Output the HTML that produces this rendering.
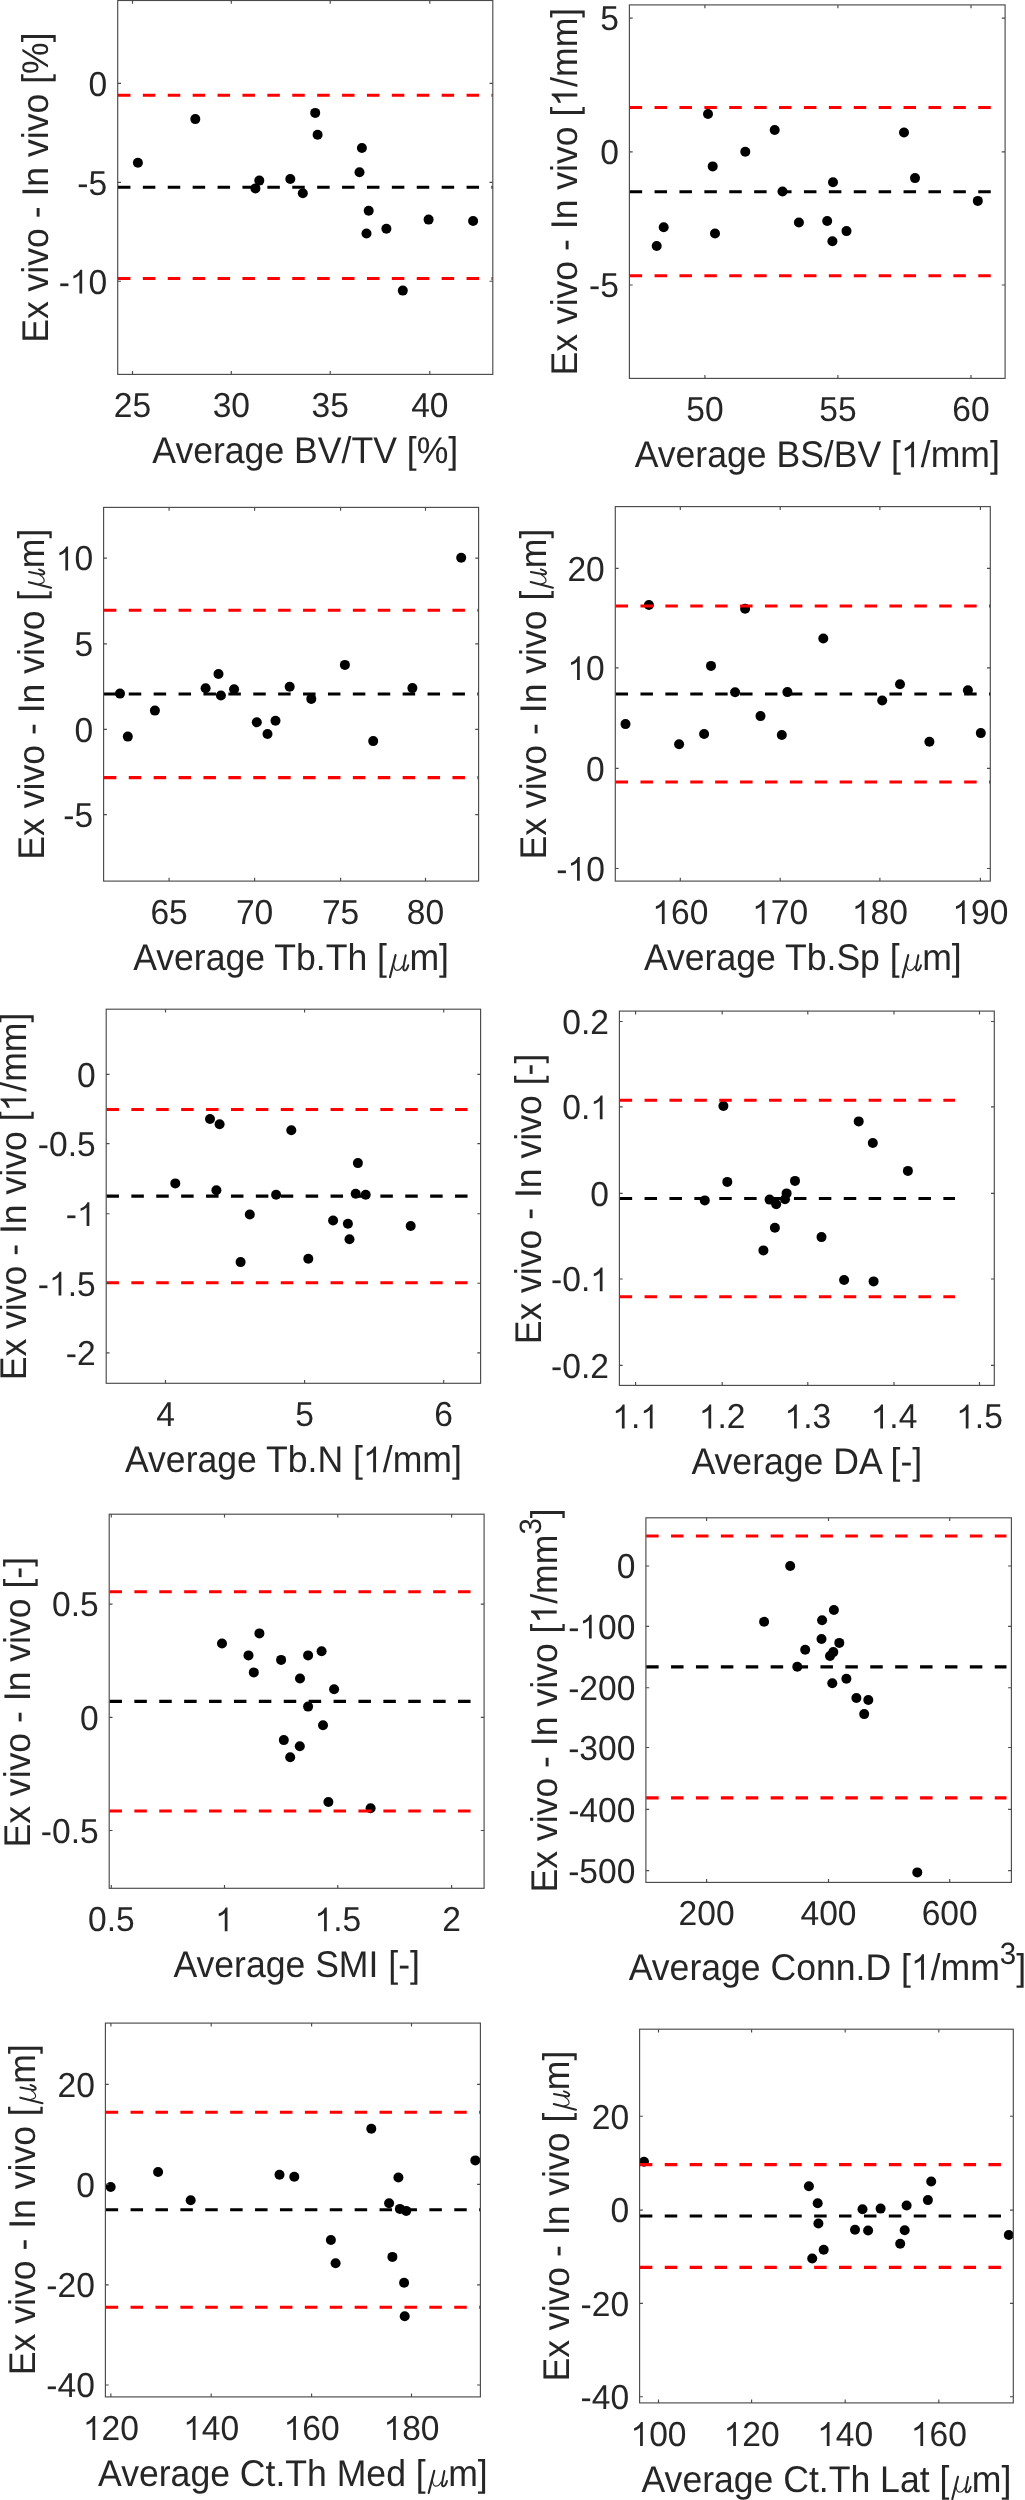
<!DOCTYPE html><html><head><meta charset="utf-8"><style>html,body{margin:0;padding:0;background:#fff;}svg{display:block;will-change:transform;text-rendering:geometricPrecision;}</style></head><body>
<svg width="1025" height="2500" viewBox="0 0 1025 2500" font-family="Liberation Sans, sans-serif" fill="#262626">
<rect width="1025" height="2500" fill="#fff"></rect>
<g><clipPath id="c0"><rect x="117.7" y="0.5" width="375.1" height="373.9"></rect></clipPath><g clip-path="url(#c0)"><circle cx="137.9" cy="162.8" r="5" fill="#000"></circle><circle cx="195.3" cy="119.1" r="5" fill="#000"></circle><circle cx="255.4" cy="188.4" r="5" fill="#000"></circle><circle cx="259.3" cy="180.6" r="5" fill="#000"></circle><circle cx="290.3" cy="179" r="5" fill="#000"></circle><circle cx="302.8" cy="193.3" r="5" fill="#000"></circle><circle cx="315.2" cy="112.9" r="5" fill="#000"></circle><circle cx="317.6" cy="134.7" r="5" fill="#000"></circle><circle cx="361.9" cy="148" r="5" fill="#000"></circle><circle cx="359.5" cy="172.2" r="5" fill="#000"></circle><circle cx="368.7" cy="210.8" r="5" fill="#000"></circle><circle cx="366.5" cy="233.5" r="5" fill="#000"></circle><circle cx="386.4" cy="228.8" r="5" fill="#000"></circle><circle cx="428.6" cy="219.6" r="5" fill="#000"></circle><circle cx="473.1" cy="221" r="5" fill="#000"></circle><circle cx="402.8" cy="290.6" r="5" fill="#000"></circle><line x1="117.7" y1="95.3" x2="492.8" y2="95.3" stroke="#ff0000" stroke-width="3.1" stroke-dasharray="12.5 12.4" stroke-dashoffset="-0.25"></line><line x1="117.7" y1="187.2" x2="492.8" y2="187.2" stroke="#000" stroke-width="3.1" stroke-dasharray="12.5 12.4" stroke-dashoffset="-0.25"></line><line x1="117.7" y1="278.5" x2="492.8" y2="278.5" stroke="#ff0000" stroke-width="3.1" stroke-dasharray="12.5 12.4" stroke-dashoffset="-0.25"></line></g><rect x="117.7" y="0.5" width="375.1" height="373.9" fill="none" stroke="#4a4a4a" stroke-width="1.15"></rect><path d="M132.5 374.4v-3.3M132.5 0.5v3.3M231.3 374.4v-3.3M231.3 0.5v3.3M330.2 374.4v-3.3M330.2 0.5v3.3M429.8 374.4v-3.3M429.8 0.5v3.3M117.7 83.4h3.3M492.8 83.4h-3.3M117.7 182.3h3.3M492.8 182.3h-3.3M117.7 281.2h3.3M492.8 281.2h-3.3" stroke="#4a4a4a" stroke-width="1.15" fill="none"></path><text transform="translate(132.5,417.4) scale(1,1.03)" text-anchor="middle" font-size="33.6">25</text><text transform="translate(231.3,417.4) scale(1,1.03)" text-anchor="middle" font-size="33.6">30</text><text transform="translate(330.2,417.4) scale(1,1.03)" text-anchor="middle" font-size="33.6">35</text><text transform="translate(429.8,417.4) scale(1,1.03)" text-anchor="middle" font-size="33.6">40</text><text transform="translate(107.2,95.7) scale(1,1.03)" text-anchor="end" font-size="33.6">0</text><text transform="translate(107.2,194.6) scale(1,1.03)" text-anchor="end" font-size="33.6">-5</text><text transform="translate(107.2,293.5) scale(1,1.03)" text-anchor="end" font-size="33.6">- 0</text><path d="M585,0H752V1409H640C580,1270 440,1120 219,1050V893C370,935 490,1000 585,1090Z" transform="translate(107.2,293.5) scale(1,1.03) translate(-37.36,0.00) scale(0.016406,-0.016406)"></path><text x="152.32" y="0" transform="translate(0,463.25) scale(1,1.045)" font-size="35.6" xml:space="preserve"><tspan>Average BV/TV [%]</tspan></text><g transform="translate(47.5,342.85) rotate(-90)"><text x="0" y="0" transform="translate(0,0) scale(1,1.045)" font-size="35.6" xml:space="preserve"><tspan>Ex vivo - In vivo [%]</tspan></text></g></g>
<g><clipPath id="c1"><rect x="629.4" y="4.9" width="375.7" height="373.5"></rect></clipPath><g clip-path="url(#c1)"><circle cx="708" cy="114" r="5" fill="#000"></circle><circle cx="774.7" cy="130" r="5" fill="#000"></circle><circle cx="745.3" cy="151.8" r="5" fill="#000"></circle><circle cx="712.7" cy="166.4" r="5" fill="#000"></circle><circle cx="782.5" cy="191.5" r="5" fill="#000"></circle><circle cx="663.7" cy="227.2" r="5" fill="#000"></circle><circle cx="656.7" cy="246" r="5" fill="#000"></circle><circle cx="715" cy="233.5" r="5" fill="#000"></circle><circle cx="798.9" cy="222.5" r="5" fill="#000"></circle><circle cx="833" cy="182.2" r="5" fill="#000"></circle><circle cx="904" cy="132.5" r="5" fill="#000"></circle><circle cx="915" cy="178.1" r="5" fill="#000"></circle><circle cx="977.8" cy="200.9" r="5" fill="#000"></circle><circle cx="827.2" cy="221" r="5" fill="#000"></circle><circle cx="846.5" cy="231.1" r="5" fill="#000"></circle><circle cx="832.4" cy="241.3" r="5" fill="#000"></circle><line x1="629.4" y1="107.5" x2="996" y2="107.5" stroke="#ff0000" stroke-width="3.1" stroke-dasharray="12.5 12.4" stroke-dashoffset="-0.25"></line><line x1="629.4" y1="191.8" x2="996" y2="191.8" stroke="#000" stroke-width="3.1" stroke-dasharray="12.5 12.4" stroke-dashoffset="-0.25"></line><line x1="629.4" y1="275.8" x2="996" y2="275.8" stroke="#ff0000" stroke-width="3.1" stroke-dasharray="12.5 12.4" stroke-dashoffset="-0.25"></line></g><rect x="629.4" y="4.9" width="375.7" height="373.5" fill="none" stroke="#4a4a4a" stroke-width="1.15"></rect><path d="M704.9 378.4v-3.3M704.9 4.9v3.3M837.9 378.4v-3.3M837.9 4.9v3.3M971 378.4v-3.3M971 4.9v3.3M629.4 18.1h3.3M1005.1 18.1h-3.3M629.4 151.8h3.3M1005.1 151.8h-3.3M629.4 285h3.3M1005.1 285h-3.3" stroke="#4a4a4a" stroke-width="1.15" fill="none"></path><text transform="translate(704.9,421.4) scale(1,1.03)" text-anchor="middle" font-size="33.6">50</text><text transform="translate(837.9,421.4) scale(1,1.03)" text-anchor="middle" font-size="33.6">55</text><text transform="translate(971,421.4) scale(1,1.03)" text-anchor="middle" font-size="33.6">60</text><text transform="translate(618.9,30.4) scale(1,1.03)" text-anchor="end" font-size="33.6">5</text><text transform="translate(618.9,164.1) scale(1,1.03)" text-anchor="end" font-size="33.6">0</text><text transform="translate(618.9,297.3) scale(1,1.03)" text-anchor="end" font-size="33.6">-5</text><text x="634.66" y="0" transform="translate(0,467.25) scale(1,1.045)" font-size="35.6" xml:space="preserve"><tspan>Average BS/BV [ /mm]</tspan></text><path d="M585,0H752V1409H640C580,1270 440,1120 219,1050V893C370,935 490,1000 585,1090Z" transform="translate(0,467.25) scale(1,1.045) translate(900.99,0.00) scale(0.017383,-0.017383)"></path><g transform="translate(577.3,375.55) rotate(-90)"><text x="0" y="0" transform="translate(0,0) scale(1,1.045)" font-size="35.6" xml:space="preserve"><tspan>Ex vivo - In vivo [ /mm]</tspan></text><path d="M585,0H752V1409H640C580,1270 440,1120 219,1050V893C370,935 490,1000 585,1090Z" transform="translate(0,0) scale(1,1.045) translate(268.88,0.00) scale(0.017383,-0.017383)"></path></g></g>
<g><clipPath id="c2"><rect x="103.6" y="507.4" width="375" height="373.7"></rect></clipPath><g clip-path="url(#c2)"><circle cx="120" cy="693.6" r="5" fill="#000"></circle><circle cx="127.8" cy="736.6" r="5" fill="#000"></circle><circle cx="154.9" cy="710.6" r="5" fill="#000"></circle><circle cx="205.6" cy="688.3" r="5" fill="#000"></circle><circle cx="218.5" cy="674" r="5" fill="#000"></circle><circle cx="220.9" cy="695.5" r="5" fill="#000"></circle><circle cx="234.1" cy="689.3" r="5" fill="#000"></circle><circle cx="256.8" cy="722.3" r="5" fill="#000"></circle><circle cx="267.5" cy="734" r="5" fill="#000"></circle><circle cx="275.5" cy="720.8" r="5" fill="#000"></circle><circle cx="289.7" cy="686.7" r="5" fill="#000"></circle><circle cx="311.3" cy="698.9" r="5" fill="#000"></circle><circle cx="344.9" cy="664.9" r="5" fill="#000"></circle><circle cx="373.2" cy="741.1" r="5" fill="#000"></circle><circle cx="412.4" cy="688.1" r="5" fill="#000"></circle><circle cx="461.2" cy="557.8" r="5" fill="#000"></circle><line x1="103.6" y1="610.2" x2="478.6" y2="610.2" stroke="#ff0000" stroke-width="3.1" stroke-dasharray="12.5 12.4" stroke-dashoffset="-0.25"></line><line x1="103.6" y1="694" x2="478.6" y2="694" stroke="#000" stroke-width="3.1" stroke-dasharray="12.5 12.4" stroke-dashoffset="-0.25"></line><line x1="103.6" y1="777.6" x2="478.6" y2="777.6" stroke="#ff0000" stroke-width="3.1" stroke-dasharray="12.5 12.4" stroke-dashoffset="-0.25"></line></g><rect x="103.6" y="507.4" width="375" height="373.7" fill="none" stroke="#4a4a4a" stroke-width="1.15"></rect><path d="M169.1 881.1v-3.3M169.1 507.4v3.3M254.6 881.1v-3.3M254.6 507.4v3.3M340.6 881.1v-3.3M340.6 507.4v3.3M425.5 881.1v-3.3M425.5 507.4v3.3M103.6 558.1h3.3M478.6 558.1h-3.3M103.6 643.8h3.3M478.6 643.8h-3.3M103.6 729.4h3.3M478.6 729.4h-3.3M103.6 814.6h3.3M478.6 814.6h-3.3" stroke="#4a4a4a" stroke-width="1.15" fill="none"></path><text transform="translate(169.1,924.1) scale(1,1.03)" text-anchor="middle" font-size="33.6">65</text><text transform="translate(254.6,924.1) scale(1,1.03)" text-anchor="middle" font-size="33.6">70</text><text transform="translate(340.6,924.1) scale(1,1.03)" text-anchor="middle" font-size="33.6">75</text><text transform="translate(425.5,924.1) scale(1,1.03)" text-anchor="middle" font-size="33.6">80</text><text transform="translate(93.1,570.4) scale(1,1.03)" text-anchor="end" font-size="33.6"> 0</text><path d="M585,0H752V1409H640C580,1270 440,1120 219,1050V893C370,935 490,1000 585,1090Z" transform="translate(93.1,570.4) scale(1,1.03) translate(-37.36,0.00) scale(0.016406,-0.016406)"></path><text transform="translate(93.1,656.1) scale(1,1.03)" text-anchor="end" font-size="33.6">5</text><text transform="translate(93.1,741.7) scale(1,1.03)" text-anchor="end" font-size="33.6">0</text><text transform="translate(93.1,826.9) scale(1,1.03)" text-anchor="end" font-size="33.6">-5</text><text x="133.18" y="0" transform="translate(0,969.95) scale(1,1.045)" font-size="35.6" xml:space="preserve"><tspan>Average Tb.Th [</tspan><tspan dx="22.5">m]</tspan></text><g transform="translate(386.99,969.95)" fill="none" stroke="#262626" stroke-linecap="round"><path d="M8.6,-14.9L3.0,7.3" stroke-width="2.1"></path><path d="M6.7,-5.0C7.2,-1.5 8.2,0.4 9.9,0.4C12.3,0.4 14.3,-1.6 15.5,-3.8" stroke-width="1.15"></path><path d="M18.7,-14.7L16.4,-2.6C16.1,-0.6 16.7,0.5 17.8,0.5C19.4,0.5 20.6,-2.2 21.3,-4.7" stroke-width="2.0"></path></g><g transform="translate(43.8,859.65) rotate(-90)"><text x="0" y="0" transform="translate(0,0) scale(1,1.045)" font-size="35.6" xml:space="preserve"><tspan>Ex vivo - In vivo [</tspan><tspan dx="22.5">m]</tspan></text><g transform="translate(268.89,0)" fill="none" stroke="#262626" stroke-linecap="round"><path d="M8.6,-14.9L3.0,7.3" stroke-width="2.1"></path><path d="M6.7,-5.0C7.2,-1.5 8.2,0.4 9.9,0.4C12.3,0.4 14.3,-1.6 15.5,-3.8" stroke-width="1.15"></path><path d="M18.7,-14.7L16.4,-2.6C16.1,-0.6 16.7,0.5 17.8,0.5C19.4,0.5 20.6,-2.2 21.3,-4.7" stroke-width="2.0"></path></g></g></g>
<g><clipPath id="c3"><rect x="615.3" y="506.6" width="375" height="374.5"></rect></clipPath><g clip-path="url(#c3)"><circle cx="625.5" cy="724.1" r="5" fill="#000"></circle><circle cx="648.9" cy="605" r="5" fill="#000"></circle><circle cx="679.1" cy="744.2" r="5" fill="#000"></circle><circle cx="704.1" cy="734" r="5" fill="#000"></circle><circle cx="711" cy="665.9" r="5" fill="#000"></circle><circle cx="735.1" cy="692.2" r="5" fill="#000"></circle><circle cx="745.1" cy="608.7" r="5" fill="#000"></circle><circle cx="760.5" cy="716.1" r="5" fill="#000"></circle><circle cx="781.8" cy="735" r="5" fill="#000"></circle><circle cx="787.4" cy="692.1" r="5" fill="#000"></circle><circle cx="823.3" cy="638.5" r="5" fill="#000"></circle><circle cx="882.2" cy="700.5" r="5" fill="#000"></circle><circle cx="900" cy="684.2" r="5" fill="#000"></circle><circle cx="929.4" cy="741.7" r="5" fill="#000"></circle><circle cx="967.9" cy="690.2" r="5" fill="#000"></circle><circle cx="980.8" cy="733.1" r="5" fill="#000"></circle><line x1="615.3" y1="606" x2="990.3" y2="606" stroke="#ff0000" stroke-width="3.1" stroke-dasharray="12.5 12.4" stroke-dashoffset="-0.25"></line><line x1="615.3" y1="694" x2="990.3" y2="694" stroke="#000" stroke-width="3.1" stroke-dasharray="12.5 12.4" stroke-dashoffset="-0.25"></line><line x1="615.3" y1="782" x2="990.3" y2="782" stroke="#ff0000" stroke-width="3.1" stroke-dasharray="12.5 12.4" stroke-dashoffset="-0.25"></line></g><rect x="615.3" y="506.6" width="375" height="374.5" fill="none" stroke="#4a4a4a" stroke-width="1.15"></rect><path d="M680.3 881.1v-3.3M680.3 506.6v3.3M780.2 881.1v-3.3M780.2 506.6v3.3M879.9 881.1v-3.3M879.9 506.6v3.3M980.4 881.1v-3.3M980.4 506.6v3.3M615.3 568.3h3.3M990.3 568.3h-3.3M615.3 667.8h3.3M990.3 667.8h-3.3M615.3 768.4h3.3M990.3 768.4h-3.3M615.3 868.5h3.3M990.3 868.5h-3.3" stroke="#4a4a4a" stroke-width="1.15" fill="none"></path><text transform="translate(680.3,924.1) scale(1,1.03)" text-anchor="middle" font-size="33.6"> 60</text><path d="M585,0H752V1409H640C580,1270 440,1120 219,1050V893C370,935 490,1000 585,1090Z" transform="translate(680.3,924.1) scale(1,1.03) translate(-28.02,0.00) scale(0.016406,-0.016406)"></path><text transform="translate(780.2,924.1) scale(1,1.03)" text-anchor="middle" font-size="33.6"> 70</text><path d="M585,0H752V1409H640C580,1270 440,1120 219,1050V893C370,935 490,1000 585,1090Z" transform="translate(780.2,924.1) scale(1,1.03) translate(-28.02,0.00) scale(0.016406,-0.016406)"></path><text transform="translate(879.9,924.1) scale(1,1.03)" text-anchor="middle" font-size="33.6"> 80</text><path d="M585,0H752V1409H640C580,1270 440,1120 219,1050V893C370,935 490,1000 585,1090Z" transform="translate(879.9,924.1) scale(1,1.03) translate(-28.02,0.00) scale(0.016406,-0.016406)"></path><text transform="translate(980.4,924.1) scale(1,1.03)" text-anchor="middle" font-size="33.6"> 90</text><path d="M585,0H752V1409H640C580,1270 440,1120 219,1050V893C370,935 490,1000 585,1090Z" transform="translate(980.4,924.1) scale(1,1.03) translate(-28.02,0.00) scale(0.016406,-0.016406)"></path><text transform="translate(604.8,580.6) scale(1,1.03)" text-anchor="end" font-size="33.6">20</text><text transform="translate(604.8,680.1) scale(1,1.03)" text-anchor="end" font-size="33.6"> 0</text><path d="M585,0H752V1409H640C580,1270 440,1120 219,1050V893C370,935 490,1000 585,1090Z" transform="translate(604.8,680.1) scale(1,1.03) translate(-37.36,0.00) scale(0.016406,-0.016406)"></path><text transform="translate(604.8,780.7) scale(1,1.03)" text-anchor="end" font-size="33.6">0</text><text transform="translate(604.8,880.8) scale(1,1.03)" text-anchor="end" font-size="33.6">- 0</text><path d="M585,0H752V1409H640C580,1270 440,1120 219,1050V893C370,935 490,1000 585,1090Z" transform="translate(604.8,880.8) scale(1,1.03) translate(-37.36,0.00) scale(0.016406,-0.016406)"></path><text x="643.88" y="0" transform="translate(0,969.95) scale(1,1.045)" font-size="35.6" xml:space="preserve"><tspan>Average Tb.Sp [</tspan><tspan dx="22.5">m]</tspan></text><g transform="translate(899.69,969.95)" fill="none" stroke="#262626" stroke-linecap="round"><path d="M8.6,-14.9L3.0,7.3" stroke-width="2.1"></path><path d="M6.7,-5.0C7.2,-1.5 8.2,0.4 9.9,0.4C12.3,0.4 14.3,-1.6 15.5,-3.8" stroke-width="1.15"></path><path d="M18.7,-14.7L16.4,-2.6C16.1,-0.6 16.7,0.5 17.8,0.5C19.4,0.5 20.6,-2.2 21.3,-4.7" stroke-width="2.0"></path></g><g transform="translate(545.6,859.55) rotate(-90)"><text x="0" y="0" transform="translate(0,0) scale(1,1.045)" font-size="35.6" xml:space="preserve"><tspan>Ex vivo - In vivo [</tspan><tspan dx="22.5">m]</tspan></text><g transform="translate(268.89,0)" fill="none" stroke="#262626" stroke-linecap="round"><path d="M8.6,-14.9L3.0,7.3" stroke-width="2.1"></path><path d="M6.7,-5.0C7.2,-1.5 8.2,0.4 9.9,0.4C12.3,0.4 14.3,-1.6 15.5,-3.8" stroke-width="1.15"></path><path d="M18.7,-14.7L16.4,-2.6C16.1,-0.6 16.7,0.5 17.8,0.5C19.4,0.5 20.6,-2.2 21.3,-4.7" stroke-width="2.0"></path></g></g></g>
<g><clipPath id="c4"><rect x="106.2" y="1009.2" width="374.4" height="374.1"></rect></clipPath><g clip-path="url(#c4)"><circle cx="175.3" cy="1183.4" r="5" fill="#000"></circle><circle cx="210" cy="1119" r="5" fill="#000"></circle><circle cx="219.6" cy="1124.3" r="5" fill="#000"></circle><circle cx="216.4" cy="1190.2" r="5" fill="#000"></circle><circle cx="240.6" cy="1262.1" r="5" fill="#000"></circle><circle cx="249.8" cy="1214.5" r="5" fill="#000"></circle><circle cx="276.1" cy="1194.7" r="5" fill="#000"></circle><circle cx="291.3" cy="1130.3" r="5" fill="#000"></circle><circle cx="308.3" cy="1258.8" r="5" fill="#000"></circle><circle cx="333.1" cy="1220.5" r="5" fill="#000"></circle><circle cx="347.9" cy="1223.8" r="5" fill="#000"></circle><circle cx="349.5" cy="1239.2" r="5" fill="#000"></circle><circle cx="357.9" cy="1163.1" r="5" fill="#000"></circle><circle cx="355.7" cy="1193.7" r="5" fill="#000"></circle><circle cx="365.7" cy="1194.8" r="5" fill="#000"></circle><circle cx="410.7" cy="1226" r="5" fill="#000"></circle><line x1="106.2" y1="1109.5" x2="472" y2="1109.5" stroke="#ff0000" stroke-width="3.1" stroke-dasharray="12.5 12.4" stroke-dashoffset="-0.25"></line><line x1="106.2" y1="1196.1" x2="472" y2="1196.1" stroke="#000" stroke-width="3.1" stroke-dasharray="12.5 12.4" stroke-dashoffset="-0.25"></line><line x1="106.2" y1="1282.8" x2="472" y2="1282.8" stroke="#ff0000" stroke-width="3.1" stroke-dasharray="12.5 12.4" stroke-dashoffset="-0.25"></line></g><rect x="106.2" y="1009.2" width="374.4" height="374.1" fill="none" stroke="#4a4a4a" stroke-width="1.15"></rect><path d="M165.5 1383.3v-3.3M165.5 1009.2v3.3M304.6 1383.3v-3.3M304.6 1009.2v3.3M443.7 1383.3v-3.3M443.7 1009.2v3.3M106.2 1074.3h3.3M480.6 1074.3h-3.3M106.2 1143.6h3.3M480.6 1143.6h-3.3M106.2 1213.7h3.3M480.6 1213.7h-3.3M106.2 1283.2h3.3M480.6 1283.2h-3.3M106.2 1352.8h3.3M480.6 1352.8h-3.3" stroke="#4a4a4a" stroke-width="1.15" fill="none"></path><text transform="translate(165.5,1426.3) scale(1,1.03)" text-anchor="middle" font-size="33.6">4</text><text transform="translate(304.6,1426.3) scale(1,1.03)" text-anchor="middle" font-size="33.6">5</text><text transform="translate(443.7,1426.3) scale(1,1.03)" text-anchor="middle" font-size="33.6">6</text><text transform="translate(95.7,1086.6) scale(1,1.03)" text-anchor="end" font-size="33.6">0</text><text transform="translate(95.7,1155.9) scale(1,1.03)" text-anchor="end" font-size="33.6">-0.5</text><text transform="translate(95.7,1226) scale(1,1.03)" text-anchor="end" font-size="33.6">- </text><path d="M585,0H752V1409H640C580,1270 440,1120 219,1050V893C370,935 490,1000 585,1090Z" transform="translate(95.7,1226) scale(1,1.03) translate(-18.69,0.00) scale(0.016406,-0.016406)"></path><text transform="translate(95.7,1295.5) scale(1,1.03)" text-anchor="end" font-size="33.6">- .5</text><path d="M585,0H752V1409H640C580,1270 440,1120 219,1050V893C370,935 490,1000 585,1090Z" transform="translate(95.7,1295.5) scale(1,1.03) translate(-46.70,0.00) scale(0.016406,-0.016406)"></path><text transform="translate(95.7,1365.1) scale(1,1.03)" text-anchor="end" font-size="33.6">-2</text><text x="124.99" y="0" transform="translate(0,1472.15) scale(1,1.045)" font-size="35.6" xml:space="preserve"><tspan>Average Tb.N [ /mm]</tspan></text><path d="M585,0H752V1409H640C580,1270 440,1120 219,1050V893C370,935 490,1000 585,1090Z" transform="translate(0,1472.15) scale(1,1.045) translate(362.96,0.00) scale(0.017383,-0.017383)"></path><g transform="translate(26.1,1380.35) rotate(-90)"><text x="0" y="0" transform="translate(0,0) scale(1,1.045)" font-size="35.6" xml:space="preserve"><tspan>Ex vivo - In vivo [ /mm]</tspan></text><path d="M585,0H752V1409H640C580,1270 440,1120 219,1050V893C370,935 490,1000 585,1090Z" transform="translate(0,0) scale(1,1.045) translate(268.88,0.00) scale(0.017383,-0.017383)"></path></g></g>
<g><clipPath id="c5"><rect x="619.4" y="1011.1" width="374.9" height="374.3"></rect></clipPath><g clip-path="url(#c5)"><circle cx="704.8" cy="1200.4" r="5" fill="#000"></circle><circle cx="723.4" cy="1106" r="5" fill="#000"></circle><circle cx="727.3" cy="1181.9" r="5" fill="#000"></circle><circle cx="763.4" cy="1250.4" r="5" fill="#000"></circle><circle cx="769.6" cy="1199.6" r="5" fill="#000"></circle><circle cx="774.9" cy="1227.7" r="5" fill="#000"></circle><circle cx="776.2" cy="1204.3" r="5" fill="#000"></circle><circle cx="785" cy="1199.2" r="5" fill="#000"></circle><circle cx="786.6" cy="1193.4" r="5" fill="#000"></circle><circle cx="795" cy="1180.9" r="5" fill="#000"></circle><circle cx="821.5" cy="1237.1" r="5" fill="#000"></circle><circle cx="844.1" cy="1280" r="5" fill="#000"></circle><circle cx="858.7" cy="1121.4" r="5" fill="#000"></circle><circle cx="872.8" cy="1143" r="5" fill="#000"></circle><circle cx="873.6" cy="1281.4" r="5" fill="#000"></circle><circle cx="907.9" cy="1170.9" r="5" fill="#000"></circle><line x1="619.4" y1="1100.3" x2="955" y2="1100.3" stroke="#ff0000" stroke-width="3.1" stroke-dasharray="12.5 12.4" stroke-dashoffset="-0.25"></line><line x1="619.4" y1="1198.5" x2="955" y2="1198.5" stroke="#000" stroke-width="3.1" stroke-dasharray="12.5 12.4" stroke-dashoffset="-0.25"></line><line x1="619.4" y1="1296.8" x2="955" y2="1296.8" stroke="#ff0000" stroke-width="3.1" stroke-dasharray="12.5 12.4" stroke-dashoffset="-0.25"></line></g><rect x="619.4" y="1011.1" width="374.9" height="374.3" fill="none" stroke="#4a4a4a" stroke-width="1.15"></rect><path d="M635.6 1385.4v-3.3M635.6 1011.1v3.3M722.2 1385.4v-3.3M722.2 1011.1v3.3M807.8 1385.4v-3.3M807.8 1011.1v3.3M894 1385.4v-3.3M894 1011.1v3.3M979.5 1385.4v-3.3M979.5 1011.1v3.3M619.4 1021.5h3.3M994.3 1021.5h-3.3M619.4 1106.9h3.3M994.3 1106.9h-3.3M619.4 1193.3h3.3M994.3 1193.3h-3.3M619.4 1279h3.3M994.3 1279h-3.3M619.4 1365.3h3.3M994.3 1365.3h-3.3" stroke="#4a4a4a" stroke-width="1.15" fill="none"></path><text transform="translate(635.6,1428.4) scale(1,1.03)" text-anchor="middle" font-size="33.6"> . </text><path d="M585,0H752V1409H640C580,1270 440,1120 219,1050V893C370,935 490,1000 585,1090Z" transform="translate(635.6,1428.4) scale(1,1.03) translate(4.66,0.00) scale(0.016406,-0.016406)"></path><path d="M585,0H752V1409H640C580,1270 440,1120 219,1050V893C370,935 490,1000 585,1090Z" transform="translate(635.6,1428.4) scale(1,1.03) translate(-23.34,0.00) scale(0.016406,-0.016406)"></path><text transform="translate(722.2,1428.4) scale(1,1.03)" text-anchor="middle" font-size="33.6"> .2</text><path d="M585,0H752V1409H640C580,1270 440,1120 219,1050V893C370,935 490,1000 585,1090Z" transform="translate(722.2,1428.4) scale(1,1.03) translate(-23.34,0.00) scale(0.016406,-0.016406)"></path><text transform="translate(807.8,1428.4) scale(1,1.03)" text-anchor="middle" font-size="33.6"> .3</text><path d="M585,0H752V1409H640C580,1270 440,1120 219,1050V893C370,935 490,1000 585,1090Z" transform="translate(807.8,1428.4) scale(1,1.03) translate(-23.34,0.00) scale(0.016406,-0.016406)"></path><text transform="translate(894,1428.4) scale(1,1.03)" text-anchor="middle" font-size="33.6"> .4</text><path d="M585,0H752V1409H640C580,1270 440,1120 219,1050V893C370,935 490,1000 585,1090Z" transform="translate(894,1428.4) scale(1,1.03) translate(-23.34,0.00) scale(0.016406,-0.016406)"></path><text transform="translate(979.5,1428.4) scale(1,1.03)" text-anchor="middle" font-size="33.6"> .5</text><path d="M585,0H752V1409H640C580,1270 440,1120 219,1050V893C370,935 490,1000 585,1090Z" transform="translate(979.5,1428.4) scale(1,1.03) translate(-23.34,0.00) scale(0.016406,-0.016406)"></path><text transform="translate(608.9,1033.8) scale(1,1.03)" text-anchor="end" font-size="33.6">0.2</text><text transform="translate(608.9,1119.2) scale(1,1.03)" text-anchor="end" font-size="33.6">0. </text><path d="M585,0H752V1409H640C580,1270 440,1120 219,1050V893C370,935 490,1000 585,1090Z" transform="translate(608.9,1119.2) scale(1,1.03) translate(-18.69,0.00) scale(0.016406,-0.016406)"></path><text transform="translate(608.9,1205.6) scale(1,1.03)" text-anchor="end" font-size="33.6">0</text><text transform="translate(608.9,1291.3) scale(1,1.03)" text-anchor="end" font-size="33.6">-0. </text><path d="M585,0H752V1409H640C580,1270 440,1120 219,1050V893C370,935 490,1000 585,1090Z" transform="translate(608.9,1291.3) scale(1,1.03) translate(-18.70,0.00) scale(0.016406,-0.016406)"></path><text transform="translate(608.9,1377.6) scale(1,1.03)" text-anchor="end" font-size="33.6">-0.2</text><text x="691.49" y="0" transform="translate(0,1474.25) scale(1,1.045)" font-size="35.6" xml:space="preserve"><tspan>Average DA [-]</tspan></text><g transform="translate(540.5,1344.35) rotate(-90)"><text x="0" y="0" transform="translate(0,0) scale(1,1.045)" font-size="35.6" xml:space="preserve"><tspan>Ex vivo - In vivo [-]</tspan></text></g></g>
<g><clipPath id="c6"><rect x="109.2" y="1514.2" width="374.9" height="374.1"></rect></clipPath><g clip-path="url(#c6)"><circle cx="222" cy="1643.5" r="5" fill="#000"></circle><circle cx="248.5" cy="1655.4" r="5" fill="#000"></circle><circle cx="253.8" cy="1672.4" r="5" fill="#000"></circle><circle cx="259.4" cy="1633.4" r="5" fill="#000"></circle><circle cx="281.1" cy="1659.9" r="5" fill="#000"></circle><circle cx="283.8" cy="1740.1" r="5" fill="#000"></circle><circle cx="290.2" cy="1757.3" r="5" fill="#000"></circle><circle cx="300" cy="1678.5" r="5" fill="#000"></circle><circle cx="299.8" cy="1746.2" r="5" fill="#000"></circle><circle cx="308.1" cy="1655.4" r="5" fill="#000"></circle><circle cx="308.1" cy="1706.6" r="5" fill="#000"></circle><circle cx="321.6" cy="1651.3" r="5" fill="#000"></circle><circle cx="323" cy="1725.3" r="5" fill="#000"></circle><circle cx="334.1" cy="1689.2" r="5" fill="#000"></circle><circle cx="328.4" cy="1802" r="5" fill="#000"></circle><circle cx="370.6" cy="1808.2" r="5" fill="#000"></circle><line x1="109.2" y1="1591.8" x2="475" y2="1591.8" stroke="#ff0000" stroke-width="3.1" stroke-dasharray="12.5 12.4" stroke-dashoffset="-0.25"></line><line x1="109.2" y1="1701.4" x2="475" y2="1701.4" stroke="#000" stroke-width="3.1" stroke-dasharray="12.5 12.4" stroke-dashoffset="-0.25"></line><line x1="109.2" y1="1811" x2="475" y2="1811" stroke="#ff0000" stroke-width="3.1" stroke-dasharray="12.5 12.4" stroke-dashoffset="-0.25"></line></g><rect x="109.2" y="1514.2" width="374.9" height="374.1" fill="none" stroke="#4a4a4a" stroke-width="1.15"></rect><path d="M111.3 1888.3v-3.3M111.3 1514.2v3.3M224.5 1888.3v-3.3M224.5 1514.2v3.3M337.8 1888.3v-3.3M337.8 1514.2v3.3M451.6 1888.3v-3.3M451.6 1514.2v3.3M109.2 1604.1h3.3M484.1 1604.1h-3.3M109.2 1717.3h3.3M484.1 1717.3h-3.3M109.2 1830.5h3.3M484.1 1830.5h-3.3" stroke="#4a4a4a" stroke-width="1.15" fill="none"></path><text transform="translate(111.3,1931.3) scale(1,1.03)" text-anchor="middle" font-size="33.6">0.5</text><text transform="translate(224.5,1931.3) scale(1,1.03)" text-anchor="middle" font-size="33.6"> </text><path d="M585,0H752V1409H640C580,1270 440,1120 219,1050V893C370,935 490,1000 585,1090Z" transform="translate(224.5,1931.3) scale(1,1.03) translate(-9.34,0.00) scale(0.016406,-0.016406)"></path><text transform="translate(337.8,1931.3) scale(1,1.03)" text-anchor="middle" font-size="33.6"> .5</text><path d="M585,0H752V1409H640C580,1270 440,1120 219,1050V893C370,935 490,1000 585,1090Z" transform="translate(337.8,1931.3) scale(1,1.03) translate(-23.34,0.00) scale(0.016406,-0.016406)"></path><text transform="translate(451.6,1931.3) scale(1,1.03)" text-anchor="middle" font-size="33.6">2</text><text transform="translate(98.7,1616.4) scale(1,1.03)" text-anchor="end" font-size="33.6">0.5</text><text transform="translate(98.7,1729.6) scale(1,1.03)" text-anchor="end" font-size="33.6">0</text><text transform="translate(98.7,1842.8) scale(1,1.03)" text-anchor="end" font-size="33.6">-0.5</text><text x="173.39" y="0" transform="translate(0,1977.15) scale(1,1.045)" font-size="35.6" xml:space="preserve"><tspan>Average SMI [-]</tspan></text><g transform="translate(29.6,1847.55) rotate(-90)"><text x="0" y="0" transform="translate(0,0) scale(1,1.045)" font-size="35.6" xml:space="preserve"><tspan>Ex vivo - In vivo [-]</tspan></text></g></g>
<g><clipPath id="c7"><rect x="645.9" y="1517.8" width="365.5" height="364.6"></rect></clipPath><g clip-path="url(#c7)"><circle cx="764.1" cy="1621.8" r="5" fill="#000"></circle><circle cx="790.2" cy="1566" r="5" fill="#000"></circle><circle cx="797.3" cy="1666.8" r="5" fill="#000"></circle><circle cx="805.2" cy="1649.7" r="5" fill="#000"></circle><circle cx="822.1" cy="1620.3" r="5" fill="#000"></circle><circle cx="821.5" cy="1639" r="5" fill="#000"></circle><circle cx="833.9" cy="1610" r="5" fill="#000"></circle><circle cx="830" cy="1656" r="5" fill="#000"></circle><circle cx="833.3" cy="1652.1" r="5" fill="#000"></circle><circle cx="839.3" cy="1642.9" r="5" fill="#000"></circle><circle cx="832.3" cy="1683.2" r="5" fill="#000"></circle><circle cx="846.4" cy="1678.7" r="5" fill="#000"></circle><circle cx="856.4" cy="1698" r="5" fill="#000"></circle><circle cx="868.3" cy="1700" r="5" fill="#000"></circle><circle cx="864.2" cy="1714.1" r="5" fill="#000"></circle><circle cx="917.3" cy="1872.4" r="5" fill="#000"></circle><line x1="645.9" y1="1536" x2="1006.5" y2="1536" stroke="#ff0000" stroke-width="3.1" stroke-dasharray="12.5 12.4" stroke-dashoffset="-0.25"></line><line x1="645.9" y1="1666.9" x2="1006.5" y2="1666.9" stroke="#000" stroke-width="3.1" stroke-dasharray="12.5 12.4" stroke-dashoffset="-0.25"></line><line x1="645.9" y1="1797.9" x2="1006.5" y2="1797.9" stroke="#ff0000" stroke-width="3.1" stroke-dasharray="12.5 12.4" stroke-dashoffset="-0.25"></line></g><rect x="645.9" y="1517.8" width="365.5" height="364.6" fill="none" stroke="#4a4a4a" stroke-width="1.15"></rect><path d="M706.6 1882.4v-3.3M706.6 1517.8v3.3M828.5 1882.4v-3.3M828.5 1517.8v3.3M949.7 1882.4v-3.3M949.7 1517.8v3.3M645.9 1566h3.3M1011.4 1566h-3.3M645.9 1626.3h3.3M1011.4 1626.3h-3.3M645.9 1687.7h3.3M1011.4 1687.7h-3.3M645.9 1747.5h3.3M1011.4 1747.5h-3.3M645.9 1809.4h3.3M1011.4 1809.4h-3.3M645.9 1870.6h3.3M1011.4 1870.6h-3.3" stroke="#4a4a4a" stroke-width="1.15" fill="none"></path><text transform="translate(706.6,1925.4) scale(1,1.03)" text-anchor="middle" font-size="33.6">200</text><text transform="translate(828.5,1925.4) scale(1,1.03)" text-anchor="middle" font-size="33.6">400</text><text transform="translate(949.7,1925.4) scale(1,1.03)" text-anchor="middle" font-size="33.6">600</text><text transform="translate(635.4,1578.3) scale(1,1.03)" text-anchor="end" font-size="33.6">0</text><text transform="translate(635.4,1638.6) scale(1,1.03)" text-anchor="end" font-size="33.6">- 00</text><path d="M585,0H752V1409H640C580,1270 440,1120 219,1050V893C370,935 490,1000 585,1090Z" transform="translate(635.4,1638.6) scale(1,1.03) translate(-56.05,0.00) scale(0.016406,-0.016406)"></path><text transform="translate(635.4,1700) scale(1,1.03)" text-anchor="end" font-size="33.6">-200</text><text transform="translate(635.4,1759.8) scale(1,1.03)" text-anchor="end" font-size="33.6">-300</text><text transform="translate(635.4,1821.7) scale(1,1.03)" text-anchor="end" font-size="33.6">-400</text><text transform="translate(635.4,1882.9) scale(1,1.03)" text-anchor="end" font-size="33.6">-500</text><text x="628.74" y="0" transform="translate(0,1979.85) scale(1,1.045)" font-size="35.6" xml:space="preserve"><tspan>Average Conn.D [ /mm</tspan><tspan dy="-15.12" font-size="29.5">3</tspan><tspan dy="15.12">]</tspan></text><path d="M585,0H752V1409H640C580,1270 440,1120 219,1050V893C370,935 490,1000 585,1090Z" transform="translate(0,1979.85) scale(1,1.045) translate(910.90,0.00) scale(0.017383,-0.017383)"></path><g transform="translate(556.7,1892.45) rotate(-90)"><text x="0" y="0" transform="translate(0,0) scale(1,1.045)" font-size="35.6" xml:space="preserve"><tspan>Ex vivo - In vivo [ /mm</tspan><tspan dy="-15.12" font-size="29.5">3</tspan><tspan dy="15.12">]</tspan></text><path d="M585,0H752V1409H640C580,1270 440,1120 219,1050V893C370,935 490,1000 585,1090Z" transform="translate(0,0) scale(1,1.045) translate(268.88,0.00) scale(0.017383,-0.017383)"></path></g></g>
<g><clipPath id="c8"><rect x="105.4" y="2023.1" width="375" height="373.8"></rect></clipPath><g clip-path="url(#c8)"><circle cx="110.7" cy="2187" r="5" fill="#000"></circle><circle cx="158.1" cy="2172" r="5" fill="#000"></circle><circle cx="190.7" cy="2200.2" r="5" fill="#000"></circle><circle cx="279.5" cy="2174.7" r="5" fill="#000"></circle><circle cx="294.3" cy="2176.7" r="5" fill="#000"></circle><circle cx="330.9" cy="2240" r="5" fill="#000"></circle><circle cx="335.6" cy="2263.2" r="5" fill="#000"></circle><circle cx="371.3" cy="2128.7" r="5" fill="#000"></circle><circle cx="389.1" cy="2203.3" r="5" fill="#000"></circle><circle cx="398.4" cy="2177.5" r="5" fill="#000"></circle><circle cx="399.9" cy="2208.9" r="5" fill="#000"></circle><circle cx="406.2" cy="2210.9" r="5" fill="#000"></circle><circle cx="392.4" cy="2256.9" r="5" fill="#000"></circle><circle cx="404.1" cy="2282.7" r="5" fill="#000"></circle><circle cx="404.7" cy="2316.2" r="5" fill="#000"></circle><circle cx="475.3" cy="2160.4" r="5" fill="#000"></circle><line x1="105.4" y1="2112.2" x2="480.4" y2="2112.2" stroke="#ff0000" stroke-width="3.1" stroke-dasharray="12.5 12.4" stroke-dashoffset="-0.25"></line><line x1="105.4" y1="2209.8" x2="480.4" y2="2209.8" stroke="#000" stroke-width="3.1" stroke-dasharray="12.5 12.4" stroke-dashoffset="-0.25"></line><line x1="105.4" y1="2307.3" x2="480.4" y2="2307.3" stroke="#ff0000" stroke-width="3.1" stroke-dasharray="12.5 12.4" stroke-dashoffset="-0.25"></line></g><rect x="105.4" y="2023.1" width="375" height="373.8" fill="none" stroke="#4a4a4a" stroke-width="1.15"></rect><path d="M110.9 2396.9v-3.3M110.9 2023.1v3.3M211.2 2396.9v-3.3M211.2 2023.1v3.3M311.6 2396.9v-3.3M311.6 2023.1v3.3M411.5 2396.9v-3.3M411.5 2023.1v3.3M105.4 2084.3h3.3M480.4 2084.3h-3.3M105.4 2184.4h3.3M480.4 2184.4h-3.3M105.4 2284.9h3.3M480.4 2284.9h-3.3M105.4 2385h3.3M480.4 2385h-3.3" stroke="#4a4a4a" stroke-width="1.15" fill="none"></path><text transform="translate(110.9,2439.9) scale(1,1.03)" text-anchor="middle" font-size="33.6"> 20</text><path d="M585,0H752V1409H640C580,1270 440,1120 219,1050V893C370,935 490,1000 585,1090Z" transform="translate(110.9,2439.9) scale(1,1.03) translate(-28.02,0.00) scale(0.016406,-0.016406)"></path><text transform="translate(211.2,2439.9) scale(1,1.03)" text-anchor="middle" font-size="33.6"> 40</text><path d="M585,0H752V1409H640C580,1270 440,1120 219,1050V893C370,935 490,1000 585,1090Z" transform="translate(211.2,2439.9) scale(1,1.03) translate(-28.02,0.00) scale(0.016406,-0.016406)"></path><text transform="translate(311.6,2439.9) scale(1,1.03)" text-anchor="middle" font-size="33.6"> 60</text><path d="M585,0H752V1409H640C580,1270 440,1120 219,1050V893C370,935 490,1000 585,1090Z" transform="translate(311.6,2439.9) scale(1,1.03) translate(-28.02,0.00) scale(0.016406,-0.016406)"></path><text transform="translate(411.5,2439.9) scale(1,1.03)" text-anchor="middle" font-size="33.6"> 80</text><path d="M585,0H752V1409H640C580,1270 440,1120 219,1050V893C370,935 490,1000 585,1090Z" transform="translate(411.5,2439.9) scale(1,1.03) translate(-28.02,0.00) scale(0.016406,-0.016406)"></path><text transform="translate(94.9,2096.6) scale(1,1.03)" text-anchor="end" font-size="33.6">20</text><text transform="translate(94.9,2196.7) scale(1,1.03)" text-anchor="end" font-size="33.6">0</text><text transform="translate(94.9,2297.2) scale(1,1.03)" text-anchor="end" font-size="33.6">-20</text><text transform="translate(94.9,2397.3) scale(1,1.03)" text-anchor="end" font-size="33.6">-40</text><text x="98.08" y="0" transform="translate(0,2485.75) scale(1,1.045)" font-size="35.6" xml:space="preserve"><tspan>Average Ct.Th Med [</tspan><tspan dx="22.5">m]</tspan></text><g transform="translate(425.69,2485.75)" fill="none" stroke="#262626" stroke-linecap="round"><path d="M8.6,-14.9L3.0,7.3" stroke-width="2.1"></path><path d="M6.7,-5.0C7.2,-1.5 8.2,0.4 9.9,0.4C12.3,0.4 14.3,-1.6 15.5,-3.8" stroke-width="1.15"></path><path d="M18.7,-14.7L16.4,-2.6C16.1,-0.6 16.7,0.5 17.8,0.5C19.4,0.5 20.6,-2.2 21.3,-4.7" stroke-width="2.0"></path></g><g transform="translate(35.2,2375.15) rotate(-90)"><text x="0" y="0" transform="translate(0,0) scale(1,1.045)" font-size="35.6" xml:space="preserve"><tspan>Ex vivo - In vivo [</tspan><tspan dx="22.5">m]</tspan></text><g transform="translate(268.89,0)" fill="none" stroke="#262626" stroke-linecap="round"><path d="M8.6,-14.9L3.0,7.3" stroke-width="2.1"></path><path d="M6.7,-5.0C7.2,-1.5 8.2,0.4 9.9,0.4C12.3,0.4 14.3,-1.6 15.5,-3.8" stroke-width="1.15"></path><path d="M18.7,-14.7L16.4,-2.6C16.1,-0.6 16.7,0.5 17.8,0.5C19.4,0.5 20.6,-2.2 21.3,-4.7" stroke-width="2.0"></path></g></g></g>
<g><clipPath id="c9"><rect x="639.6" y="2029.2" width="373.7" height="373.7"></rect></clipPath><g clip-path="url(#c9)"><circle cx="644" cy="2161.7" r="5" fill="#000"></circle><circle cx="808.9" cy="2186.2" r="5" fill="#000"></circle><circle cx="817.7" cy="2203.2" r="5" fill="#000"></circle><circle cx="818.4" cy="2223.5" r="5" fill="#000"></circle><circle cx="812.2" cy="2258.5" r="5" fill="#000"></circle><circle cx="823.7" cy="2249.8" r="5" fill="#000"></circle><circle cx="855" cy="2229.8" r="5" fill="#000"></circle><circle cx="862.5" cy="2209.3" r="5" fill="#000"></circle><circle cx="868.1" cy="2230.5" r="5" fill="#000"></circle><circle cx="880.6" cy="2208.6" r="5" fill="#000"></circle><circle cx="900.2" cy="2243.7" r="5" fill="#000"></circle><circle cx="904.7" cy="2230.3" r="5" fill="#000"></circle><circle cx="906.6" cy="2205.5" r="5" fill="#000"></circle><circle cx="927.9" cy="2200.1" r="5" fill="#000"></circle><circle cx="931.2" cy="2181.5" r="5" fill="#000"></circle><circle cx="1008.8" cy="2235" r="5" fill="#000"></circle><line x1="639.6" y1="2164.6" x2="1013.3" y2="2164.6" stroke="#ff0000" stroke-width="3.1" stroke-dasharray="12.5 12.4" stroke-dashoffset="-0.25"></line><line x1="639.6" y1="2216" x2="1013.3" y2="2216" stroke="#000" stroke-width="3.1" stroke-dasharray="12.5 12.4" stroke-dashoffset="-0.25"></line><line x1="639.6" y1="2267.4" x2="1013.3" y2="2267.4" stroke="#ff0000" stroke-width="3.1" stroke-dasharray="12.5 12.4" stroke-dashoffset="-0.25"></line></g><rect x="639.6" y="2029.2" width="373.7" height="373.7" fill="none" stroke="#4a4a4a" stroke-width="1.15"></rect><path d="M658.5 2402.9v-3.3M658.5 2029.2v3.3M751.6 2402.9v-3.3M751.6 2029.2v3.3M845.2 2402.9v-3.3M845.2 2029.2v3.3M938.8 2402.9v-3.3M938.8 2029.2v3.3M639.6 2116.2h3.3M1013.3 2116.2h-3.3M639.6 2210.1h3.3M1013.3 2210.1h-3.3M639.6 2303.4h3.3M1013.3 2303.4h-3.3M639.6 2396.7h3.3M1013.3 2396.7h-3.3" stroke="#4a4a4a" stroke-width="1.15" fill="none"></path><text transform="translate(658.5,2445.9) scale(1,1.03)" text-anchor="middle" font-size="33.6"> 00</text><path d="M585,0H752V1409H640C580,1270 440,1120 219,1050V893C370,935 490,1000 585,1090Z" transform="translate(658.5,2445.9) scale(1,1.03) translate(-28.02,0.00) scale(0.016406,-0.016406)"></path><text transform="translate(751.6,2445.9) scale(1,1.03)" text-anchor="middle" font-size="33.6"> 20</text><path d="M585,0H752V1409H640C580,1270 440,1120 219,1050V893C370,935 490,1000 585,1090Z" transform="translate(751.6,2445.9) scale(1,1.03) translate(-28.02,0.00) scale(0.016406,-0.016406)"></path><text transform="translate(845.2,2445.9) scale(1,1.03)" text-anchor="middle" font-size="33.6"> 40</text><path d="M585,0H752V1409H640C580,1270 440,1120 219,1050V893C370,935 490,1000 585,1090Z" transform="translate(845.2,2445.9) scale(1,1.03) translate(-28.02,0.00) scale(0.016406,-0.016406)"></path><text transform="translate(938.8,2445.9) scale(1,1.03)" text-anchor="middle" font-size="33.6"> 60</text><path d="M585,0H752V1409H640C580,1270 440,1120 219,1050V893C370,935 490,1000 585,1090Z" transform="translate(938.8,2445.9) scale(1,1.03) translate(-28.02,0.00) scale(0.016406,-0.016406)"></path><text transform="translate(629.1,2128.5) scale(1,1.03)" text-anchor="end" font-size="33.6">20</text><text transform="translate(629.1,2222.4) scale(1,1.03)" text-anchor="end" font-size="33.6">0</text><text transform="translate(629.1,2315.7) scale(1,1.03)" text-anchor="end" font-size="33.6">-20</text><text transform="translate(629.1,2409) scale(1,1.03)" text-anchor="end" font-size="33.6">-40</text><text x="641.5" y="0" transform="translate(0,2491.75) scale(1,1.045)" font-size="35.6" xml:space="preserve"><tspan>Average Ct.Th Lat [</tspan><tspan dx="22.5">m]</tspan></text><g transform="translate(949.36,2491.75)" fill="none" stroke="#262626" stroke-linecap="round"><path d="M8.6,-14.9L3.0,7.3" stroke-width="2.1"></path><path d="M6.7,-5.0C7.2,-1.5 8.2,0.4 9.9,0.4C12.3,0.4 14.3,-1.6 15.5,-3.8" stroke-width="1.15"></path><path d="M18.7,-14.7L16.4,-2.6C16.1,-0.6 16.7,0.5 17.8,0.5C19.4,0.5 20.6,-2.2 21.3,-4.7" stroke-width="2.0"></path></g><g transform="translate(568.7,2381.55) rotate(-90)"><text x="0" y="0" transform="translate(0,0) scale(1,1.045)" font-size="35.6" xml:space="preserve"><tspan>Ex vivo - In vivo [</tspan><tspan dx="22.5">m]</tspan></text><g transform="translate(268.89,0)" fill="none" stroke="#262626" stroke-linecap="round"><path d="M8.6,-14.9L3.0,7.3" stroke-width="2.1"></path><path d="M6.7,-5.0C7.2,-1.5 8.2,0.4 9.9,0.4C12.3,0.4 14.3,-1.6 15.5,-3.8" stroke-width="1.15"></path><path d="M18.7,-14.7L16.4,-2.6C16.1,-0.6 16.7,0.5 17.8,0.5C19.4,0.5 20.6,-2.2 21.3,-4.7" stroke-width="2.0"></path></g></g></g>
</svg></body></html>
